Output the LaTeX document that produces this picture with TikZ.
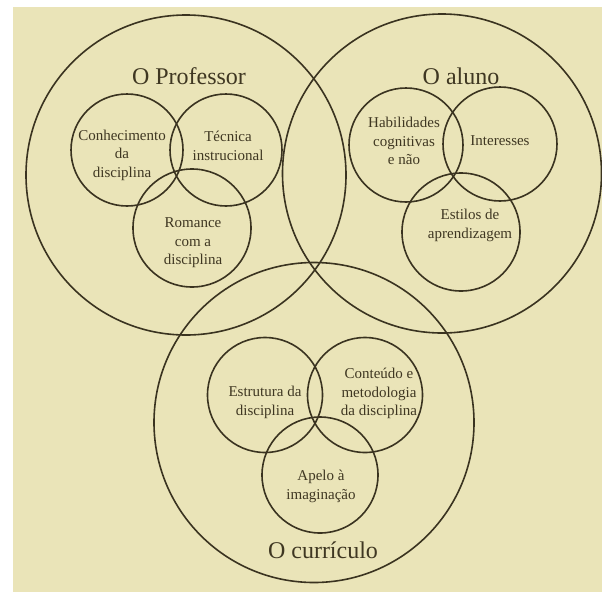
\documentclass[tikz,border=0pt]{standalone}
\usepackage{fontspec}
\setmainfont{Liberation Serif}
\definecolor{paper}{HTML}{EAE4B8}
\definecolor{ink}{HTML}{3A3320}
\definecolor{txt}{HTML}{3F3722}
\begin{document}
\begin{tikzpicture}[x=1pt,y=-1pt,
  ring/.style={circle, draw=ink, line width=1.6pt, inner sep=0pt, outer sep=0pt, minimum size=#1},
  lbl/.style={align=center, text=txt, inner sep=0pt, font=\fontsize{15}{18.5}\selectfont},
  title/.style={text=txt, inner sep=0pt, font=\fontsize{24}{28}\selectfont}]
\useasboundingbox (0,0) rectangle (602,592);
\fill[white] (0,0) rectangle (602,592);
\fill[paper] (13,7) rectangle (602,592);
% big circles
\node[ring=320pt] (prof) at (186,175) {};
\node[ring=319pt] (aluno) at (442,173.5) {};
\node[ring=320pt] (curr) at (314,422.5) {};
% professor group
\node[ring=112pt] (conh) at (127,150) {};
\node[ring=112pt] (tecn) at (226,150) {};
\node[ring=118pt] (roma) at (192,228) {};
% aluno group
\node[ring=114pt] (habi) at (406,145) {};
\node[ring=114pt] (inte) at (500,144) {};
\node[ring=118pt] (esti) at (461,232) {};
% curriculo group
\node[ring=115pt] (estr) at (265,395) {};
\node[ring=115pt] (cont) at (365,395) {};
\node[ring=116pt] (apel) at (320,475) {};
% titles
\node[title] (tprof) at (189,76) {O Professor};
\node[title] (taluno) at (461,76) {O aluno};
\node[title] (tcurr) at (323,550) {O currículo};
% labels
\node[lbl] (lconh) at (122,155) {Conhecimento\\da\\disciplina};
\node[lbl] (ltecn) at (228,146) {Técnica\\instrucional};
\node[lbl] (lroma) at (193,243) {Romance\\com a\\disciplina};
\node[lbl] (lhabi) at (404,141) {Habilidades\\cognitivas\\e não};
\node[lbl] (linte) at (500,141) {Interesses};
\node[lbl] (lesti) at (470,225.5) {Estilos de\\aprendizagem};
\node[lbl] (lestr) at (265,402.5) {Estrutura da\\disciplina};
\node[lbl] (lcont) at (379,393.5) {Conteúdo e\\metodologia\\da disciplina};
\node[lbl] (lapel) at (321,486.5) {Apelo à\\imaginação};
\end{tikzpicture}
\end{document}
